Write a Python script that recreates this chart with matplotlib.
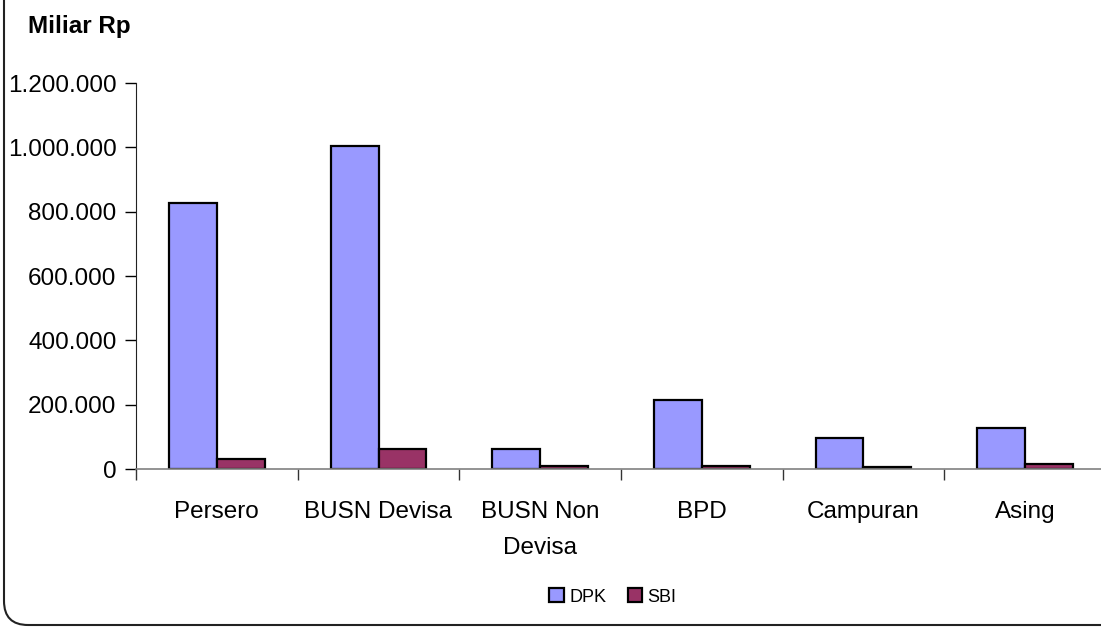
import matplotlib
matplotlib.use("Agg")
import matplotlib.pyplot as plt
import numpy as np
from matplotlib.patches import FancyBboxPatch, Patch
from matplotlib.transforms import IdentityTransform
from matplotlib.ticker import FuncFormatter

plt.rcParams["font.family"] = ["Liberation Sans", "DejaVu Sans"]

categories = ["Persero", "BUSN Devisa", "BUSN Non\nDevisa", "BPD", "Campuran", "Asing"]
dpk = [828000, 1003000, 62000, 214000, 95000, 126000]
sbi = [32000, 62000, 9000, 8000, 6000, 16000]
yticks = [0, 200000, 400000, 600000, 800000, 1000000, 1200000]

DPK_COLOR = "#9999FF"
SBI_COLOR = "#993366"

fig = plt.figure(figsize=(11.01, 6.27), dpi=100)
ax = fig.add_axes([136 / 1101, 1 - 469 / 627, (1106 - 136) / 1101, (469 - 83) / 627])

x = np.arange(len(categories))
w = 0.296
ax.bar(x - w / 2, dpk, w, color=DPK_COLOR, edgecolor="black", linewidth=1.6, label="DPK")
ax.bar(x + w / 2, sbi, w, color=SBI_COLOR, edgecolor="black", linewidth=1.6, label="SBI")

ax.set_xlim(-0.5, len(categories) - 0.5)
ax.set_ylim(0, 1200000)
ax.set_yticks(yticks)
ax.yaxis.set_major_formatter(FuncFormatter(lambda v, p: f"{int(v):,}".replace(",", ".")))
ax.tick_params(axis="y", labelsize=17.5, length=8, width=1, direction="out", pad=6)

ax.set_xticks(x)
ax.set_xticklabels(categories, fontsize=17.5, linespacing=1.85)
ax.set_xticks(np.arange(len(categories) + 1) - 0.5, minor=True)
ax.tick_params(axis="x", which="major", length=0, pad=23)
ax.tick_params(axis="x", which="minor", length=8, width=1, color="#333333")

for s in ["top", "right"]:
    ax.spines[s].set_visible(False)
ax.spines["left"].set_color("#222222")
ax.spines["bottom"].set_color("#808080")
ax.spines["bottom"].set_linewidth(1.2)

fig.text(28 / 1101, 1 - 27 / 627, "Miliar Rp", fontsize=17.5, fontweight="bold", va="center", ha="left")

handles = [Patch(facecolor=DPK_COLOR, edgecolor="black", linewidth=1.6, label="DPK"),
           Patch(facecolor=SBI_COLOR, edgecolor="black", linewidth=1.6, label="SBI")]
fig.legend(handles=handles, loc="center", bbox_to_anchor=(613 / 1101, 1 - 597 / 627), ncol=2,
           frameon=False, fontsize=13, handlelength=0.8, handleheight=0.8, handletextpad=0.3,
           columnspacing=1.2)

border = FancyBboxPatch((4, 2), 1200, 700, boxstyle="round,pad=0,rounding_size=24",
                        transform=IdentityTransform(), facecolor="none", edgecolor="#222222",
                        linewidth=1.5)
fig.add_artist(border)

fig.savefig("out.png", dpi=100)
